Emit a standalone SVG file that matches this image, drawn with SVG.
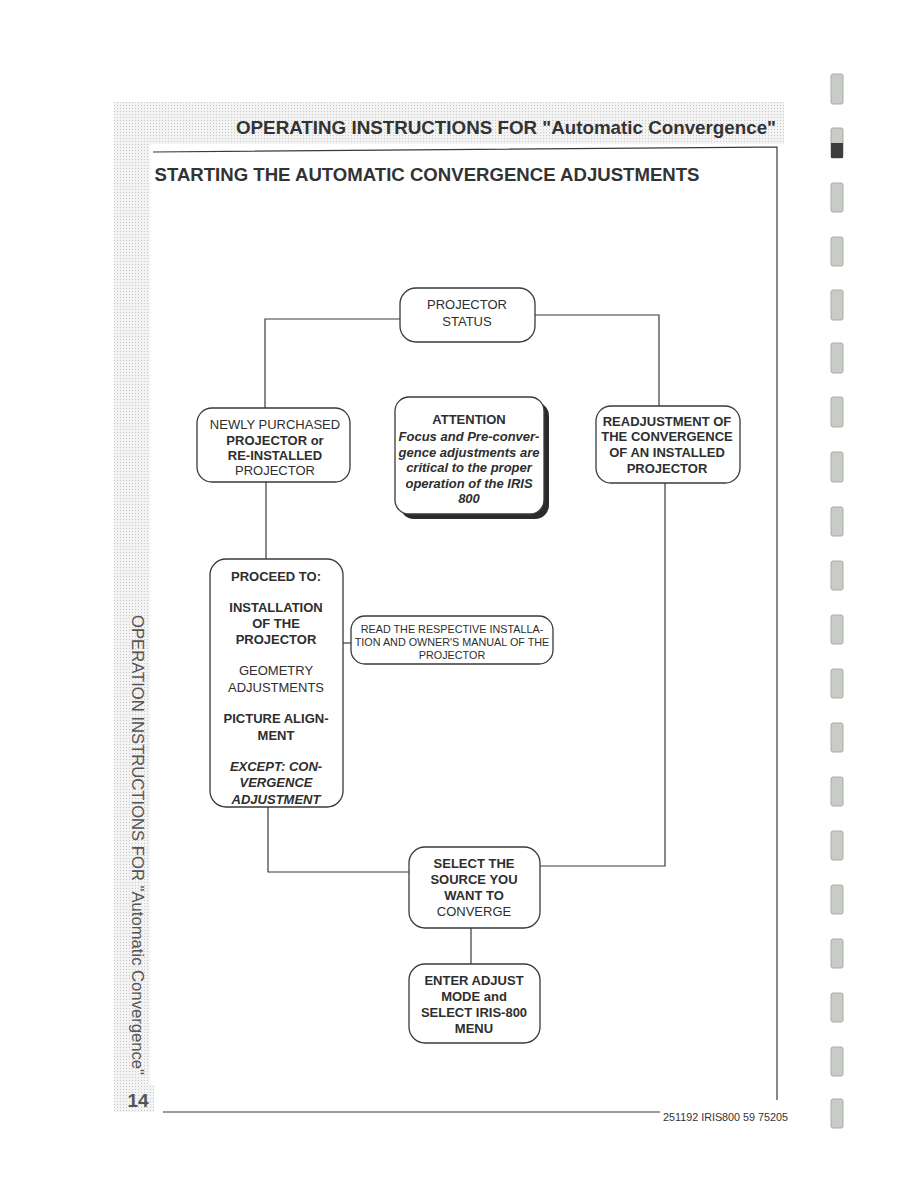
<svg xmlns="http://www.w3.org/2000/svg" width="918" height="1188" viewBox="0 0 918 1188">
<defs>
<pattern id="dots" width="3" height="3" patternUnits="userSpaceOnUse">
<rect width="3" height="3" fill="#f3f3f3"/>
<rect width="1" height="1" fill="#c9c9c9"/>
</pattern>
<style>
.box{fill:#fff;stroke:#3a3a3a;stroke-width:1.3}
.ln{fill:none;stroke:#3a3a3a;stroke-width:1.2}
.t{font-family:"Liberation Sans",Arial,sans-serif;fill:#2e2e2e;text-anchor:middle;font-size:13px}
.s{font-size:10.8px}
.b{font-weight:bold}
.i{font-style:italic;font-weight:bold}
.tab{fill:#c8cbc6;stroke:#a9aca7;stroke-width:1}
</style>
</defs>
<rect width="918" height="1188" fill="#fff"/>
<!-- page background strips -->
<rect x="114" y="102" width="670" height="42" fill="url(#dots)"/>
<rect x="114" y="102" width="36" height="1010" fill="url(#dots)"/>
<rect x="123" y="1085" width="31" height="27" fill="url(#dots)"/>
<text x="506" y="134" font-family="Liberation Sans,Arial,sans-serif" font-weight="bold" font-size="19" fill="#333" text-anchor="middle" textLength="540" lengthAdjust="spacingAndGlyphs">OPERATING INSTRUCTIONS FOR "Automatic Convergence"</text>
<!-- frame -->
<path class="ln" d="M153 152 L777 147 L777 1100" stroke-width="1.6"/>
<path class="ln" d="M163 1112 L660 1112" stroke-width="1.6"/>
<text x="427" y="181" font-family="Liberation Sans,Arial,sans-serif" font-weight="bold" font-size="19" fill="#333" text-anchor="middle" textLength="545" lengthAdjust="spacingAndGlyphs">STARTING THE AUTOMATIC CONVERGENCE ADJUSTMENTS</text>
<text x="663" y="1121" font-family="Liberation Sans,Arial,sans-serif" font-size="11" fill="#333" textLength="125" lengthAdjust="spacingAndGlyphs">251192 IRIS800 59 75205</text>
<!-- sidebar -->
<text transform="translate(132,845) rotate(90)" font-family="Liberation Sans,Arial,sans-serif" font-size="16" fill="#555" text-anchor="middle" textLength="460" lengthAdjust="spacingAndGlyphs">OPERATION INSTRUCTIONS FOR "Automatic Convergence"</text>
<text x="138" y="1107" font-family="Liberation Sans,Arial,sans-serif" font-weight="bold" font-size="19" fill="#555" text-anchor="middle">14</text>
<!-- right margin tabs -->
<g id="tabs">
<rect class="tab" x="831" y="74" width="12" height="30" rx="2"/>
<rect class="tab" x="831" y="128" width="12" height="30" rx="2"/>
<rect x="831" y="143" width="12" height="15" fill="#3d3d3d"/>
<rect class="tab" x="831" y="183" width="12" height="29" rx="2"/>
<rect class="tab" x="831" y="237" width="12" height="29" rx="2"/>
<rect class="tab" x="831" y="290" width="12" height="30" rx="2"/>
<rect class="tab" x="831" y="343" width="12" height="30" rx="2"/>
<rect class="tab" x="831" y="397" width="12" height="30" rx="2"/>
<rect class="tab" x="831" y="452" width="12" height="30" rx="2"/>
<rect class="tab" x="831" y="507" width="12" height="29" rx="2"/>
<rect class="tab" x="831" y="561" width="12" height="29" rx="2"/>
<rect class="tab" x="831" y="615" width="12" height="29" rx="2"/>
<rect class="tab" x="831" y="669" width="12" height="29" rx="2"/>
<rect class="tab" x="831" y="723" width="12" height="29" rx="2"/>
<rect class="tab" x="831" y="777" width="12" height="29" rx="2"/>
<rect class="tab" x="831" y="831" width="12" height="29" rx="2"/>
<rect class="tab" x="831" y="885" width="12" height="29" rx="2"/>
<rect class="tab" x="831" y="939" width="12" height="29" rx="2"/>
<rect class="tab" x="831" y="993" width="12" height="29" rx="2"/>
<rect class="tab" x="831" y="1047" width="12" height="29" rx="2"/>
<rect class="tab" x="831" y="1099" width="12" height="29" rx="2"/>
</g>
<!-- connectors -->
<g id="connectors" class="ln">
<path class="ln" d="M400 319 L265 319 L265 408"/>
<path class="ln" d="M535 315 L659 315 L659 406"/>
<path class="ln" d="M266 482 L266 559"/>
<path class="ln" d="M343 643 L351 643"/>
<path class="ln" d="M268 807 L268 872 L409 872"/>
<path class="ln" d="M665 483 L665 866 L540 866"/>
<path class="ln" d="M471 928 L471 964"/>
</g>
<!-- nodes -->
<g id="projector-status">
<rect class="box" x="400" y="288" width="135" height="54" rx="16"/>
<text class="t" x="467" y="309">PROJECTOR</text>
<text class="t" x="467" y="326">STATUS</text>
</g>
<g id="newly-purchased">
<rect class="box" x="197" y="408" width="153" height="74" rx="15"/>
<text class="t" x="275" y="429">NEWLY PURCHASED</text>
<text class="t b" x="275" y="445">PROJECTOR or</text>
<text class="t b" x="275" y="460">RE-INSTALLED</text>
<text class="t" x="275" y="475">PROJECTOR</text>
</g>
<g id="attention">
<rect x="400" y="402" width="149" height="117" rx="14" fill="#2b2b2b"/>
<rect class="box" x="395" y="397" width="149" height="117" rx="14"/>
<text class="t b" x="469" y="424">ATTENTION</text>
<text class="t i" x="469" y="441">Focus and Pre-conver-</text>
<text class="t i" x="469" y="457">gence adjustments are</text>
<text class="t i" x="469" y="472">critical to the proper</text>
<text class="t i" x="469" y="488">operation of the IRIS</text>
<text class="t i" x="469" y="503">800</text>
</g>
<g id="readjustment">
<rect class="box" x="596" y="406" width="144" height="77" rx="15"/>
<text class="t b" x="667" y="426">READJUSTMENT OF</text>
<text class="t b" x="667" y="441">THE CONVERGENCE</text>
<text class="t b" x="667" y="457">OF AN INSTALLED</text>
<text class="t b" x="667" y="473">PROJECTOR</text>
</g>
<g id="proceed-to">
<rect class="box" x="210" y="559" width="133" height="248" rx="16"/>
<text class="t b" x="276" y="581">PROCEED TO:</text>
<text class="t b" x="276" y="612">INSTALLATION</text>
<text class="t b" x="276" y="628">OF THE</text>
<text class="t b" x="276" y="644">PROJECTOR</text>
<text class="t" x="276" y="675">GEOMETRY</text>
<text class="t" x="276" y="692">ADJUSTMENTS</text>
<text class="t b" x="276" y="723">PICTURE ALIGN-</text>
<text class="t b" x="276" y="740">MENT</text>
<text class="t i" x="276" y="771">EXCEPT: CON-</text>
<text class="t i" x="276" y="787">VERGENCE</text>
<text class="t i" x="276" y="804">ADJUSTMENT</text>
</g>
<g id="read-manual">
<rect class="box" x="351" y="616" width="202" height="48" rx="14"/>
<text class="t s" x="452" y="633">READ THE RESPECTIVE INSTALLA-</text>
<text class="t s" x="452" y="646">TION AND OWNER'S MANUAL OF THE</text>
<text class="t s" x="452" y="659">PROJECTOR</text>
</g>
<g id="select-source">
<rect class="box" x="409" y="847" width="131" height="81" rx="16"/>
<text class="t b" x="474" y="868">SELECT THE</text>
<text class="t b" x="474" y="884">SOURCE YOU</text>
<text class="t b" x="474" y="900">WANT TO</text>
<text class="t" x="474" y="916">CONVERGE</text>
</g>
<g id="enter-adjust">
<rect class="box" x="409" y="964" width="131" height="79" rx="16"/>
<text class="t b" x="474" y="985">ENTER ADJUST</text>
<text class="t b" x="474" y="1001">MODE and</text>
<text class="t b" x="474" y="1017">SELECT IRIS-800</text>
<text class="t b" x="474" y="1033">MENU</text>
</g>
</svg>
